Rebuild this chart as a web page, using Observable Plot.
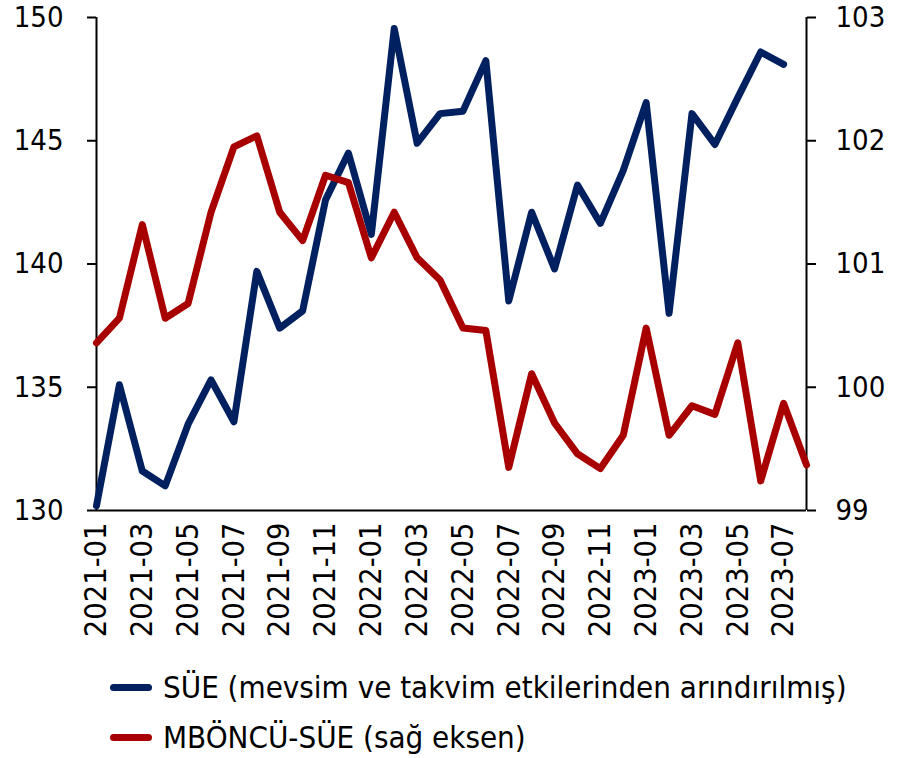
<!DOCTYPE html>
<html>
<head>
<meta charset="utf-8">
<script src="https://cdn.jsdelivr.net/npm/d3@7"></script>
<script src="https://cdn.jsdelivr.net/npm/@observablehq/plot@0.6"></script>
<style>
  html, body { margin: 0; padding: 0; background: #fff; }
  #wrap { width: 903px; font-family: "DejaVu Sans Condensed", "DejaVu Sans", sans-serif; font-stretch: condensed; }
  .legend { padding-top: 12px; padding-left: 110px; }
  .item { display: flex; align-items: center; height: 50px; font-size: 31px; color: #000; white-space: nowrap; }
  .swatch { width: 42px; height: 7px; border-radius: 4px; margin-right: 11px; }
</style>
</head>
<body>
<div id="wrap"></div>
<script>
const months = ["2021-01","2021-02","2021-03","2021-04","2021-05","2021-06","2021-07","2021-08","2021-09","2021-10","2021-11","2021-12",
  "2022-01","2022-02","2022-03","2022-04","2022-05","2022-06","2022-07","2022-08","2022-09","2022-10","2022-11","2022-12",
  "2023-01","2023-02","2023-03","2023-04","2023-05","2023-06","2023-07","2023-08"];
const xTicks = ["2021-01","2021-03","2021-05","2021-07","2021-09","2021-11","2022-01","2022-03","2022-05","2022-07","2022-09","2022-11","2023-01","2023-03","2023-05","2023-07"];
const sue = [130.2, 135.1, 131.6, 131.0, 133.5, 135.3, 133.6, 139.7, 137.4, 138.1, 142.6, 144.5,
  141.2, 149.55, 144.9, 146.1, 146.2, 148.25, 138.5, 142.1, 139.8, 143.2, 141.65, 143.8,
  146.55, 138.0, 146.1, 144.85, 146.75, 148.6, 148.1];
const mboncu = [100.36, 100.56, 101.32, 100.56, 100.68, 101.42, 101.95, 102.04, 101.42, 101.19, 101.72, 101.66,
  101.05, 101.42, 101.05, 100.87, 100.48, 100.46, 99.35, 100.11, 99.71, 99.46, 99.34, 99.61,
  100.48, 99.61, 99.85, 99.78, 100.36, 99.24, 99.87, 99.37];
const leftTicks = [130, 135, 140, 145, 150];
const rightTicks = [99, 100, 101, 102, 103];
const seriesNames = ["SÜE (mevsim ve takvim etkilerinden arındırılmış)", "MBÖNCÜ-SÜE (sağ eksen)"];
const colors = ["#002060", "#A80000"];

// map right axis (99..103) onto left scale (130..150)
const toLeft = v => 130 + (v - 99) * 5;
const fromLeft = v => Math.round((v - 130) / 5 + 99);

const sueRows = sue.map((v, i) => ({month: months[i], value: v}));
const redRows = mboncu.map((v, i) => ({month: months[i], value: toLeft(v)}));

const font = '"DejaVu Sans Condensed", "DejaVu Sans", sans-serif';

const chart = Plot.plot({
  width: 903,
  height: 650,
  marginLeft: 96,
  marginRight: 97,
  marginTop: 17,
  marginBottom: 140,
  x: {type: "point", domain: months, padding: 0, round: false},
  y: {domain: [130, 150]},
  style: {fontFamily: font, fontSize: "29px", color: "#000", background: "#fff", fontStretch: "condensed"},
  marks: [
    Plot.axisY({ticks: leftTicks, anchor: "left", tickSize: 9, tickPadding: 24, strokeWidth: 2, label: null}),
    Plot.axisY({ticks: rightTicks.map(toLeft), tickFormat: d => String(fromLeft(d)), anchor: "right", tickSize: 9, tickPadding: 20, strokeWidth: 2, label: null}),
    Plot.axisX({ticks: xTicks, tickRotate: -90, tickSize: 0, tickPadding: 12, fontSize: 30.5, label: null}),
    Plot.ruleX([months[0], months[months.length - 1]], {stroke: "#000", strokeWidth: 2}),
    Plot.ruleY([130], {stroke: "#000", strokeWidth: 2}),
    Plot.line(sueRows, {x: "month", y: "value", stroke: colors[0], strokeWidth: 7, strokeLinejoin: "round", strokeLinecap: "round"}),
    Plot.line(redRows, {x: "month", y: "value", stroke: colors[1], strokeWidth: 7, strokeLinejoin: "round", strokeLinecap: "round"})
  ]
});

const wrap = document.getElementById("wrap");
wrap.appendChild(chart);
const legend = document.createElement("div");
legend.className = "legend";
seriesNames.forEach((name, i) => {
  const item = document.createElement("div");
  item.className = "item";
  const sw = document.createElement("span");
  sw.className = "swatch";
  sw.style.background = colors[i];
  const tx = document.createElement("span");
  tx.textContent = name;
  item.appendChild(sw);
  item.appendChild(tx);
  legend.appendChild(item);
});
wrap.appendChild(legend);
</script>
</body>
</html>
